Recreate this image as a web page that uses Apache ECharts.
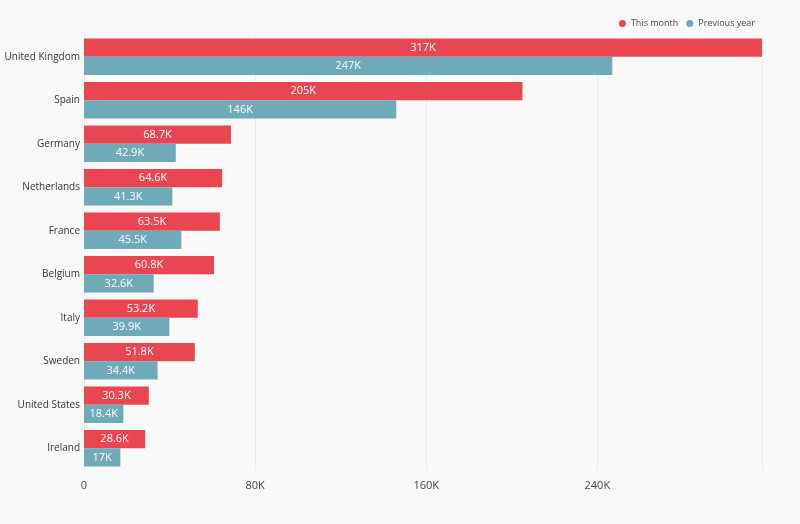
<!DOCTYPE html>
<html>
<head>
<meta charset="utf-8">
<script src="https://cdn.jsdelivr.net/npm/echarts@6/dist/echarts.min.js"></script>
<style>html,body{margin:0;padding:0;background:#f9f9f9;}#c{width:800px;height:524px;}</style>
</head>
<body>
<div id="c"></div>
<script>
var categories = ["United Kingdom","Spain","Germany","Netherlands","France","Belgium","Italy","Sweden","United States","Ireland"];
var thisMonth = [317000,205000,68700,64600,63500,60800,53200,51800,30300,28600];
var previousYear = [247000,146000,42900,41300,45500,32600,39900,34400,18400,17000];
var seriesNames = ["This month","Previous year"];
var xTicks = [0,80000,160000,240000];

function fmt(v){
  if (v === 0) return "0";
  var k = v/1000;
  var s = k >= 100 ? Math.round(k).toString() : (Math.round(k*10)/10).toString();
  return s + "K";
}
var FONT = "Open Sans";
var chart = echarts.init(document.getElementById('c'));
chart.setOption({
  backgroundColor: '#f9f9f9',
  animation: false,
  textStyle: {fontFamily: FONT},
  legend: {
    right: 40, top: 14, itemWidth: 7, itemHeight: 7, icon: 'circle', itemGap: 8,
    textStyle: {fontFamily: FONT, fontSize: 9, color: '#444'},
    data: seriesNames
  },
  grid: {left: 84, right: 38, top: 35, bottom: 54, containLabel: false, outerBoundsMode: 'none'},
  xAxis: {
    type: 'value', min: 0, max: 317000, interval: 80000,
    axisLine: {show: false}, axisTick: {show: false},
    splitLine: {show: true, lineStyle: {color: '#ececec', width: 1}},
    axisLabel: {fontFamily: FONT, fontSize: 11, color: '#444', margin: 10,
      formatter: function(v){ return xTicks.indexOf(v) >= 0 ? fmt(v) : ''; }}
  },
  yAxis: {
    type: 'category', inverse: true, data: categories,
    axisLine: {show: false}, axisTick: {show: false},
    axisLabel: {fontFamily: FONT, fontSize: 10, color: '#333', margin: 4}
  },
  series: [
    {name: seriesNames[0], type: 'bar', data: thisMonth, barGap: '0%', barCategoryGap: '16%',
     itemStyle: {color: '#e94652'},
     label: {show: true, position: 'inside', color: '#fff', fontFamily: FONT, fontSize: 11,
       formatter: function(p){ return fmt(p.value); }}},
    {name: seriesNames[1], type: 'bar', data: previousYear,
     itemStyle: {color: '#6faab9'},
     label: {show: true, position: 'inside', color: '#fff', fontFamily: FONT, fontSize: 11,
       formatter: function(p){ return fmt(p.value); }}}
  ]
});
</script>
</body>
</html>
